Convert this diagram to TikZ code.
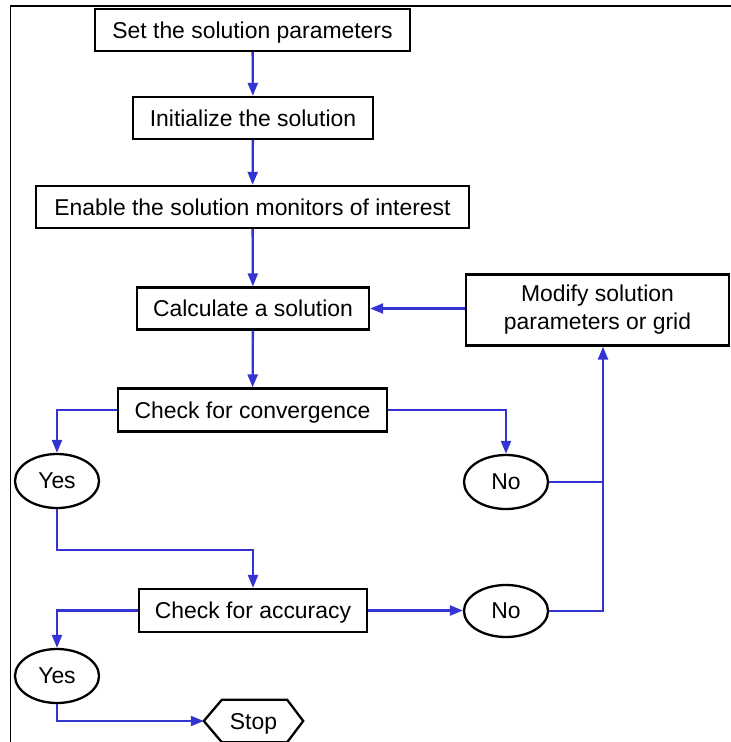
\documentclass[tikz,border=0pt]{standalone}
\usepackage{fontspec}
\setmainfont{Liberation Sans}
\usetikzlibrary{arrows.meta,calc,shapes.geometric}
\definecolor{flowblue}{RGB}{52,52,210}
\begin{document}
\begin{tikzpicture}[x=1bp,y=-1bp,
  every node/.style={font=\fontsize{23}{28}\selectfont, inner sep=0pt},
  oneline/.style={text depth=0pt},
  stepbox/.style={draw=black, line width=2.3bp, fill=white, align=center},
  answer/.style={draw=black, line width=2.3bp, ellipse, oneline, minimum width=84bp, minimum height=54bp},
  flow/.style={draw=flowblue, line width=2.3bp, -{Triangle[length=13bp,width=10bp]}},
  link/.style={draw=flowblue, line width=2.3bp}]
\useasboundingbox (0,0) rectangle (731,742);
% outer frame (left and top edges)
\draw[line width=1.8bp] (10.5,742) -- (10.5,6) -- (731,6);

% process steps
\node[stepbox, oneline, minimum width=315bp, minimum height=42bp] (set)  at (252.5,30)  {Set the solution parameters};
\node[stepbox, oneline, minimum width=240bp, minimum height=42bp] (init) at (253,118)   {Initialize the solution};
\node[stepbox, oneline, minimum width=433bp, minimum height=42bp] (mon)  at (252.5,207) {Enable the solution monitors of interest};
\node[stepbox, oneline, minimum width=232bp, minimum height=42bp] (calc) at (253,308.5) {Calculate a solution};
\node[stepbox, minimum width=263bp, minimum height=71bp] (mod)  at (597.5,310)  {Modify solution\\parameters or grid};
\node[stepbox, oneline, minimum width=269bp, minimum height=43bp] (conv) at (252.5,410)  {Check for convergence};
\node[stepbox, oneline, minimum width=228bp, minimum height=43bp] (acc)  at (253,610.5)  {Check for accuracy};

% decisions
\node[answer] (yes1) at (57,481)  {Yes};
\node[answer] (no1)  at (506,482) {No};
\node[answer, minimum height=52bp] (no2)  at (506,611) {No};
\node[answer] (yes2) at (57,676)  {Yes};

% terminal
\node[oneline, minimum width=99bp, minimum height=42bp] (stop) at (253.5,721) {Stop};
\draw[line width=2.3bp, line join=miter]
  (stop.west) -- ($(stop.north west)+(18,0)$) -- ($(stop.north east)+(-16,0)$)
  -- (stop.east) -- ($(stop.south east)+(-16,0)$) -- ($(stop.south west)+(18,0)$) -- cycle;

% junction for the return path
\coordinate (j1) at (603,482);

% connectors
\draw[flow] (set) -- (init);
\draw[flow] (init) -- (mon);
\draw[flow] (mon) -- (calc);
\draw[flow] (mod.west |- calc.east) -- (calc.east);
\draw[flow] (calc) -- (conv);
\draw[flow] (conv.west) -| (yes1.north);
\draw[flow] (conv.east) -| (no1.north);
\draw[link] (no1.east) -- (j1);
\draw[link] (no2.east) -| (j1);
\draw[flow] (j1) -- (j1 |- mod.south);
\draw[flow] (yes1.south) -- ++(0,41) -| (acc.north);
\draw[flow] (acc.west) -| (yes2.north);
\draw[flow] (acc.east) -- (no2.west |- acc.east);
\draw[flow] (yes2.south) |- (stop.west);
\end{tikzpicture}
\end{document}
